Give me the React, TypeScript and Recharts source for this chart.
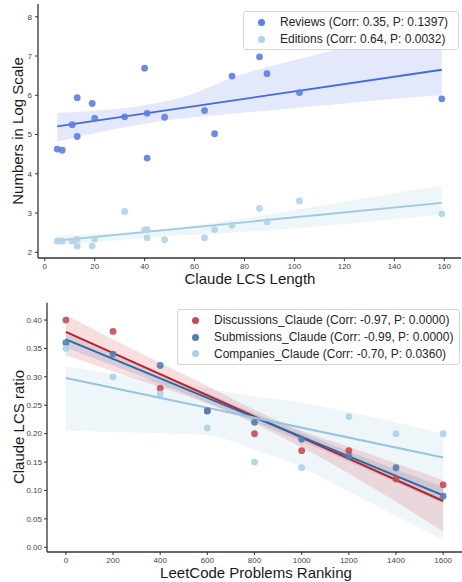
import {
  Area,
  ComposedChart,
  Line,
  Scatter,
  XAxis,
  YAxis,
} from 'recharts';

// ---- top panel: LCS length vs reviews / editions (log scale) ----
const lcsLength = [5, 7, 11, 13, 13, 19, 20, 32, 40, 41, 41, 48, 64, 68, 75, 86, 89, 102, 159];
const reviews = [4.63, 4.6, 5.25, 5.94, 4.95, 5.79, 5.41, 5.45, 6.69, 5.54, 4.4, 5.44, 5.61, 5.02, 6.49, 6.98, 6.55, 6.07, 5.91];
const editions = [2.29, 2.29, 2.29, 2.33, 2.16, 2.16, 2.34, 3.04, 2.57, 2.58, 2.37, 2.32, 2.37, 2.58, 2.69, 3.12, 2.78, 3.31, 2.98];

const topFitX = [5, 159];
const reviewsFit = [5.21, 6.65];
const editionsFit = [2.3, 3.26];

const reviewsBandX = [5, 25, 41, 54, 65, 75, 91, 113, 135, 159];
const reviewsUpper = [5.55, 5.63, 5.76, 5.93, 6.18, 6.45, 6.75, 7.1, 7.5, 8.0];
const reviewsLower = [4.82, 5.1, 5.29, 5.4, 5.47, 5.53, 5.62, 5.75, 5.88, 6.0];

const editionsBandX = [5, 25, 47, 75, 102, 130, 159];
const editionsUpper = [2.43, 2.48, 2.6, 2.82, 3.1, 3.4, 3.7];
const editionsLower = [2.17, 2.28, 2.4, 2.5, 2.62, 2.78, 2.96];

const topXTicks = [0, 20, 40, 60, 80, 100, 120, 140, 160];
const topYTicks = [2, 3, 4, 5, 6, 7, 8];

// ---- bottom panel: LeetCode ranking vs Claude LCS ratio ----
const ranking = [0, 200, 400, 600, 800, 1000, 1200, 1400, 1600];
const discussions = [0.4, 0.38, 0.28, 0.24, 0.2, 0.17, 0.17, 0.12, 0.11];
const submissions = [0.36, 0.34, 0.32, 0.24, 0.22, 0.19, 0.16, 0.14, 0.09];
const companies = [0.35, 0.3, 0.27, 0.21, 0.15, 0.14, 0.23, 0.2, 0.2];

const bottomFitX = [0, 1600];
const discussionsFit = [0.379, 0.0815];
const submissionsFit = [0.366, 0.0914];
const companiesFit = [0.298, 0.158];

const discussionsUpper = [0.409, 0.366, 0.325, 0.284, 0.242, 0.205, 0.177, 0.148, 0.118];
const discussionsLower = [0.338, 0.31, 0.282, 0.253, 0.218, 0.176, 0.13, 0.08, 0.028];
const submissionsUpper = [0.38, 0.343, 0.306, 0.271, 0.236, 0.202, 0.169, 0.137, 0.106];
const submissionsLower = [0.351, 0.32, 0.288, 0.255, 0.221, 0.186, 0.151, 0.114, 0.077];
const companiesUpper = [0.318, 0.305, 0.293, 0.28, 0.265, 0.255, 0.238, 0.22, 0.2];
const companiesLower = [0.205, 0.203, 0.201, 0.197, 0.172, 0.14, 0.098, 0.055, 0.013];

const bottomXTicks = [0, 200, 400, 600, 800, 1000, 1200, 1400, 1600];
const bottomYTicks = [0, 0.05, 0.1, 0.15, 0.2, 0.25, 0.3, 0.35, 0.4];

const FONT = '"Liberation Sans", Arial, Helvetica, sans-serif';

const points = (xs: number[], ys: number[]) => xs.map((x, i) => ({ x, y: ys[i] }));
const band = (xs: number[], lo: number[], hi: number[]) =>
  xs.map((x, i) => ({ x, band: [lo[i], hi[i]] }));

const dot = (color: string) => (props: any) => (
  <circle cx={props.cx} cy={props.cy} r={3.4} fill={color} fillOpacity={0.9} />
);

const axisProps = {
  axisLine: { stroke: '#333', strokeWidth: 1.3 },
  tickLine: { stroke: '#333', strokeWidth: 1 },
  tickSize: 3,
  tick: { fontSize: 8, fill: '#444', fontFamily: FONT },
};

const C = {
  reviews: '#4169e1',
  reviewsDot: '#5a7fe6',
  editions: '#9ecae1',
  editionsDot: '#afd4e9',
  disc: '#c41e24',
  discDot: '#c94a50',
  subm: '#2a6aa5',
  submDot: '#4d81b4',
  comp: '#93c5df',
  compDot: '#abd1e6',
};

function LegendBox({
  left,
  top,
  width,
  items,
}: {
  left: number;
  top: number;
  width: number;
  items: { label: string; color: string }[];
}) {
  return (
    <div
      style={{
        position: 'absolute',
        left,
        top,
        width,
        boxSizing: 'border-box',
        padding: '2px 0 2px 0',
        background: 'rgba(255,255,255,0.85)',
        border: '1px solid #d6d6d6',
        borderRadius: 3,
        fontFamily: FONT,
        fontSize: 12,
        color: '#262626',
      }}
    >
      {items.map((it) => (
        <div
          key={it.label}
          style={{ display: 'flex', alignItems: 'center', height: 16.7, whiteSpace: 'nowrap' }}
        >
          <span
            style={{
              display: 'inline-block',
              width: 7,
              height: 7,
              borderRadius: '50%',
              background: it.color,
              marginLeft: 14,
              marginRight: 15,
            }}
          />
          <span>{it.label}</span>
        </div>
      ))}
    </div>
  );
}

function AxisTitle({ text, x, y, rotate }: { text: string; x: number; y: number; rotate?: boolean }) {
  return (
    <div
      style={{
        position: 'absolute',
        left: x,
        top: y,
        transform: `translate(-50%, -50%)${rotate ? ' rotate(-90deg)' : ''}`,
        fontFamily: FONT,
        fontSize: 15,
        color: '#1a1a1a',
        whiteSpace: 'nowrap',
      }}
    >
      {text}
    </div>
  );
}

export default function App() {
  return (
    <div
      style={{
        position: 'absolute',
        left: 0,
        top: 0,
        width: 462,
        height: 582,
        background: '#fff',
        overflow: 'hidden',
      }}
    >
      {/* Top panel */}
      <div style={{ position: 'absolute', left: 0, top: 0 }}>
        <ComposedChart width={462} height={290} margin={{ top: 4, right: 1, left: 0, bottom: 12 }}>
          <XAxis
            type="number"
            dataKey="x"
            domain={[-2.7, 166.7]}
            ticks={topXTicks}
            allowDataOverflow
            height={20}
            tickMargin={2}
            {...axisProps}
          />
          <YAxis
            type="number"
            domain={[1.855, 8.325]}
            ticks={topYTicks}
            allowDataOverflow
            width={38}
            tickMargin={3}
            {...axisProps}
          />
          <Area
            data={band(reviewsBandX, reviewsLower, reviewsUpper)}
            dataKey="band"
            type="monotone"
            stroke="none"
            fill={C.reviews}
            fillOpacity={0.15}
            isAnimationActive={false}
          />
          <Area
            data={band(editionsBandX, editionsLower, editionsUpper)}
            dataKey="band"
            type="monotone"
            stroke="none"
            fill={C.editions}
            fillOpacity={0.16}
            isAnimationActive={false}
          />
          <Scatter data={points(lcsLength, reviews)} dataKey="y" shape={dot(C.reviewsDot)} isAnimationActive={false} />
          <Scatter data={points(lcsLength, editions)} dataKey="y" shape={dot(C.editionsDot)} isAnimationActive={false} />
          <Line
            data={points(topFitX, reviewsFit)}
            dataKey="y"
            type="linear"
            stroke={C.reviews}
            strokeWidth={1.8}
            dot={false}
            isAnimationActive={false}
          />
          <Line
            data={points(topFitX, editionsFit)}
            dataKey="y"
            type="linear"
            stroke={C.editions}
            strokeWidth={1.8}
            dot={false}
            isAnimationActive={false}
          />
        </ComposedChart>
      </div>
      <LegendBox
        left={243}
        top={11}
        width={216}
        items={[
          { label: 'Reviews (Corr: 0.35, P: 0.1397)', color: C.reviewsDot },
          { label: 'Editions (Corr: 0.64, P: 0.0032)', color: C.editionsDot },
        ]}
      />
      <AxisTitle text="Numbers in Log Scale" x={17} y={131} rotate />
      <AxisTitle text="Claude LCS Length" x={250} y={278} />

      {/* Bottom panel */}
      <div style={{ position: 'absolute', left: 0, top: 290 }}>
        <ComposedChart width={462} height={292} margin={{ top: 12.7, right: 0, left: 0, bottom: 10 }}>
          <XAxis
            type="number"
            dataKey="x"
            domain={[-80, 1680]}
            ticks={bottomXTicks}
            allowDataOverflow
            height={20}
            tickMargin={2}
            {...axisProps}
          />
          <YAxis
            type="number"
            domain={[-0.0083, 0.4305]}
            ticks={bottomYTicks}
            tickFormatter={(v: number) => v.toFixed(2)}
            allowDataOverflow
            width={47}
            tickMargin={2}
            {...axisProps}
          />
          <Area
            data={band(ranking, companiesLower, companiesUpper)}
            dataKey="band"
            type="monotone"
            stroke="none"
            fill={C.comp}
            fillOpacity={0.15}
            isAnimationActive={false}
          />
          <Area
            data={band(ranking, discussionsLower, discussionsUpper)}
            dataKey="band"
            type="monotone"
            stroke="none"
            fill={C.disc}
            fillOpacity={0.14}
            isAnimationActive={false}
          />
          <Area
            data={band(ranking, submissionsLower, submissionsUpper)}
            dataKey="band"
            type="monotone"
            stroke="none"
            fill={C.subm}
            fillOpacity={0.15}
            isAnimationActive={false}
          />
          <Scatter data={points(ranking, discussions)} dataKey="y" shape={dot(C.discDot)} isAnimationActive={false} />
          <Scatter data={points(ranking, submissions)} dataKey="y" shape={dot(C.submDot)} isAnimationActive={false} />
          <Scatter data={points(ranking, companies)} dataKey="y" shape={dot(C.compDot)} isAnimationActive={false} />
          <Line
            data={points(bottomFitX, discussionsFit)}
            dataKey="y"
            type="linear"
            stroke={C.disc}
            strokeWidth={2}
            dot={false}
            isAnimationActive={false}
          />
          <Line
            data={points(bottomFitX, submissionsFit)}
            dataKey="y"
            type="linear"
            stroke={C.subm}
            strokeWidth={2}
            dot={false}
            isAnimationActive={false}
          />
          <Line
            data={points(bottomFitX, companiesFit)}
            dataKey="y"
            type="linear"
            stroke={C.comp}
            strokeWidth={2}
            dot={false}
            isAnimationActive={false}
          />
        </ComposedChart>
      </div>
      <LegendBox
        left={177}
        top={309}
        width={283}
        items={[
          { label: 'Discussions_Claude (Corr: -0.97, P: 0.0000)', color: C.discDot },
          { label: 'Submissions_Claude (Corr: -0.99, P: 0.0000)', color: C.submDot },
          { label: 'Companies_Claude (Corr: -0.70, P: 0.0360)', color: C.compDot },
        ]}
      />
      <AxisTitle text="Claude LCS ratio" x={18} y={427} rotate />
      <AxisTitle text="LeetCode Problems Ranking" x={256} y={572} />
    </div>
  );
}
